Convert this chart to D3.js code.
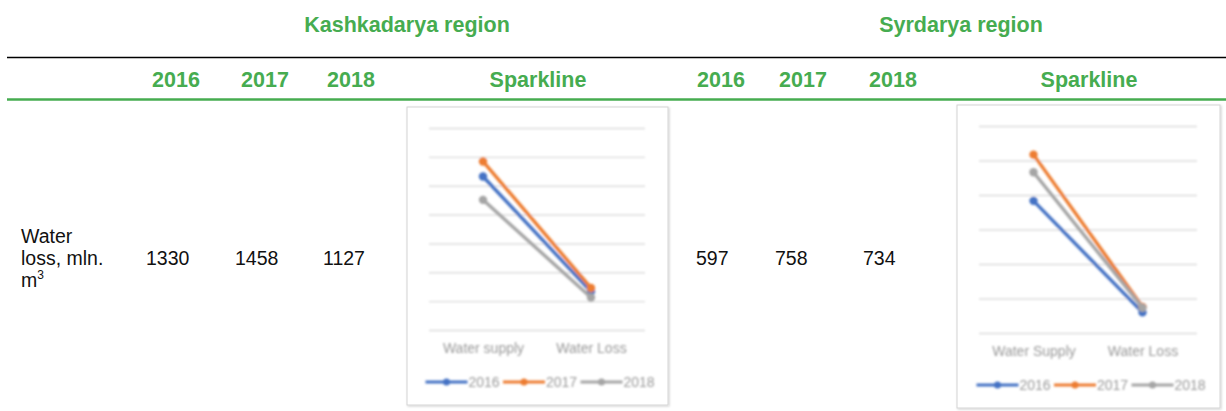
<!DOCTYPE html>
<html>
<head>
<meta charset="utf-8">
<script src="https://cdn.jsdelivr.net/npm/d3@7"></script>
<style>
  body { margin: 0; background: #fff; }
  svg { display: block; font-family: "Liberation Sans", Arial, sans-serif; }
</style>
</head>
<body>
<svg id="chart" width="1226" height="411"></svg>
<script>
var years = ["2016", "2017", "2018"]
var regionNames = ["Kashkadarya region", "Syrdarya region"]
var rowLabel = ["Water", "loss, mln.", "m"]
var kashkadaryaLoss = [1330, 1458, 1127]
var kashkadaryaSupply = [5320, 5840, 4510]
var syrdaryaLoss = [597, 758, 734]
var syrdaryaSupply = [3830, 5170, 4660]
var kashkadaryaCats = ["Water supply", "Water Loss"]
var syrdaryaCats = ["Water Supply", "Water Loss"]
var kashkadaryaTicks = [0, 1000, 2000, 3000, 4000, 5000, 6000, 7000]
var syrdaryaTicks = [0, 1000, 2000, 3000, 4000, 5000, 6000]

var green = "#46ac50"
var color = d3.scaleOrdinal().domain(years).range(["#4472c4", "#ed7d31", "#a5a5a5"])

var svg = d3.select("#chart")

// soft blur, the sparklines are pasted pictures in the original
var defs = svg.append("defs")
defs.append("filter").attr("id", "soft")
    .append("feGaussianBlur").attr("stdDeviation", 0.8)
var sh = defs.append("filter").attr("id", "shadow").attr("x", "-5%").attr("y", "-5%").attr("width", "110%").attr("height", "110%")
sh.append("feDropShadow").attr("dx", 1).attr("dy", 1).attr("stdDeviation", 1.2).attr("flood-color", "#000").attr("flood-opacity", 0.18)

// layout of the two region blocks
var blocks = [
  {name: regionNames[0], titleX: 407, cols: [176, 265, 351], spark: 538, numX: [146, 235, 323],
   box: {x0: 407, y0: 107, x1: 668, y1: 405}, loss: kashkadaryaLoss, supply: kashkadaryaSupply,
   cats: kashkadaryaCats, ticks: kashkadaryaTicks},
  {name: regionNames[1], titleX: 961, cols: [721, 803, 893], spark: 1089, numX: [696, 775, 863],
   box: {x0: 957, y0: 105, x1: 1220, y1: 408}, loss: syrdaryaLoss, supply: syrdaryaSupply,
   cats: syrdaryaCats, ticks: syrdaryaTicks}
]

// rules
svg.append("line").attr("x1", 7).attr("x2", 1226).attr("y1", 57.5).attr("y2", 57.5)
   .attr("stroke", "#000").attr("stroke-width", 1.3)
svg.append("line").attr("x1", 7).attr("x2", 1226).attr("y1", 99.5).attr("y2", 99.5)
   .attr("stroke", green).attr("stroke-width", 2.5)

// row label
var lbl = svg.append("text").attr("x", 21).attr("y", 243).attr("font-size", 19.5).attr("fill", "#111")
lbl.append("tspan").attr("x", 21).attr("y", 243).text(rowLabel[0])
lbl.append("tspan").attr("x", 21).attr("y", 265).text(rowLabel[1])
lbl.append("tspan").attr("x", 21).attr("y", 287).text(rowLabel[2])
lbl.append("tspan").attr("dy", -8).attr("font-size", 12).text("3")

function sparkline(g, b) {
  var box = b.box
  var x = d3.scalePoint().domain(b.cats).range([box.x0 + 22, box.x1 - 23]).padding(0.5)
  var y = d3.scaleLinear().domain([0, d3.max(b.ticks)]).range([box.y1 - 75, box.y0 + 21])
  var left = box.x0 + 22, right = box.x1 - 23

  g.append("rect")
    .attr("x", box.x0).attr("y", box.y0)
    .attr("width", box.x1 - box.x0).attr("height", box.y1 - box.y0)
    .attr("fill", "#fff").attr("stroke", "#d4d4d4").attr("filter", "url(#shadow)")

  var inner = g.append("g").attr("filter", "url(#soft)")

  // gridlines
  inner.append("g")
    .attr("transform", `translate(${left},0)`)
    .call(d3.axisLeft(y).tickValues(b.ticks).tickSize(-(right - left)).tickFormat(""))
    .call(a => a.select(".domain").remove())
    .call(a => a.selectAll("line").attr("stroke", "#dcdcdc").attr("stroke-width", 1.4))

  // category axis
  inner.append("g")
    .attr("transform", `translate(0,${y(0)})`)
    .call(d3.axisBottom(x).tickSize(0).tickPadding(13))
    .call(a => a.select(".domain").remove())
    .call(a => a.selectAll("text").attr("font-size", 14).attr("fill", "#999")
                 .attr("font-family", "'Liberation Sans', Arial, sans-serif"))

  var series = years.map((yr, i) => ({year: yr, values: [b.supply[i], b.loss[i]]}))
  var line = d3.line().x((d, j) => x(b.cats[j])).y(d => y(d))

  var s = inner.selectAll(".series").data(series).enter().append("g")
  s.append("path")
    .attr("d", d => line(d.values))
    .attr("fill", "none")
    .attr("stroke", d => color(d.year))
    .attr("stroke-width", 3.4)
  s.selectAll("circle").data(d => d.values.map(v => ({v: v, year: d.year})))
    .enter().append("circle")
    .attr("cx", (d, j) => x(b.cats[j]))
    .attr("cy", d => y(d.v))
    .attr("r", 4.2)
    .attr("fill", d => color(d.year))

  // legend
  var cx = (box.x0 + box.x1) / 2
  var lx = cx - 112
  var ly = box.y1 - 23
  var leg = inner.selectAll(".leg").data(years).enter().append("g")
    .attr("transform", (d, i) => `translate(${lx + i * 77.5},${ly})`)
  leg.append("line").attr("x1", 0).attr("x2", 42).attr("y1", 0).attr("y2", 0)
    .attr("stroke", d => color(d)).attr("stroke-width", 3.2)
  leg.append("circle").attr("cx", 21).attr("cy", 0).attr("r", 3.5).attr("fill", d => color(d))
  leg.append("text").attr("x", 43).attr("y", 5).attr("font-size", 14).attr("fill", "#999")
    .text(d => d)
}

blocks.forEach(function(b) {
  svg.append("text")
    .attr("x", b.titleX).attr("y", 32)
    .attr("text-anchor", "middle")
    .attr("font-size", 21.5).attr("font-weight", "bold").attr("fill", green)
    .text(b.name)

  var heads = years.concat(["Sparkline"])
  svg.selectAll(null).data(heads).enter().append("text")
    .attr("x", (d, i) => i < 3 ? b.cols[i] : b.spark)
    .attr("y", 87)
    .attr("text-anchor", "middle")
    .attr("font-size", 21.5).attr("font-weight", "bold").attr("fill", green)
    .text(d => d)

  svg.selectAll(null).data(b.loss).enter().append("text")
    .attr("x", (d, i) => b.numX[i])
    .attr("y", 265)
    .attr("font-size", 19.5).attr("fill", "#111")
    .text(d => d)

  sparkline(svg.append("g"), b)
})
</script>
</body>
</html>
